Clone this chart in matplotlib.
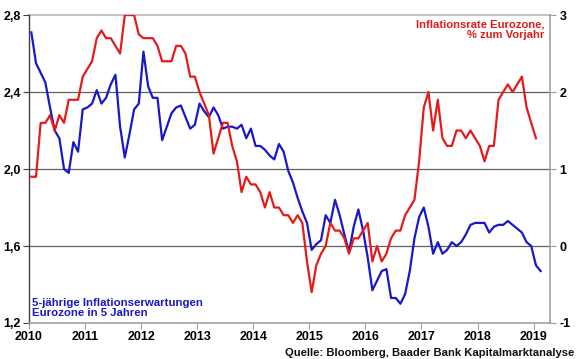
import matplotlib
matplotlib.use("Agg")
import matplotlib.pyplot as plt
import numpy as np

plt.rcParams['font.family'] = ['Liberation Sans', 'DejaVu Sans']

start_year = 2010
# 5-jährige Inflationserwartungen Eurozone in 5 Jahren (linke Achse), monatlich ab Jan 2010
blue_vals = [
    2.71, 2.55, 2.50, 2.45, 2.32, 2.20, 2.16, 2.00, 1.98, 2.14, 2.09, 2.31,
    2.32, 2.34, 2.41, 2.34, 2.37, 2.44, 2.49, 2.22, 2.06, 2.18, 2.31, 2.34,
    2.61, 2.43, 2.37, 2.37, 2.15, 2.22, 2.29, 2.32, 2.33, 2.27, 2.21, 2.23,
    2.34, 2.30, 2.27, 2.32, 2.28, 2.21, 2.22, 2.22, 2.21, 2.23, 2.16, 2.21,
    2.12, 2.12, 2.10, 2.07, 2.05, 2.13, 2.09, 1.99, 1.93, 1.85, 1.78, 1.72,
    1.58, 1.61, 1.63, 1.76, 1.72, 1.84, 1.76, 1.66, 1.57, 1.70, 1.79, 1.68,
    1.54, 1.37, 1.42, 1.47, 1.48, 1.33, 1.33, 1.30, 1.35, 1.47, 1.64, 1.75,
    1.80, 1.70, 1.56, 1.62, 1.56, 1.58, 1.62, 1.60, 1.62, 1.66, 1.71, 1.72,
    1.72, 1.72, 1.67, 1.70, 1.71, 1.71, 1.73, 1.71, 1.69, 1.67, 1.62, 1.60,
    1.50, 1.47,
]
# Inflationsrate Eurozone, % zum Vorjahr (rechte Achse), monatlich ab Jan 2010
red_vals = [
    0.9, 0.9, 1.6, 1.6, 1.7, 1.5, 1.7, 1.6, 1.9, 1.9, 1.9, 2.2,
    2.3, 2.4, 2.7, 2.8, 2.7, 2.7, 2.6, 2.5, 3.0, 3.0, 3.0, 2.75,
    2.7, 2.7, 2.7, 2.6, 2.4, 2.4, 2.4, 2.6, 2.6, 2.5, 2.2, 2.2,
    2.0, 1.85, 1.7, 1.2, 1.4, 1.6, 1.6, 1.3, 1.1, 0.7, 0.9, 0.8,
    0.8, 0.7, 0.5, 0.7, 0.5, 0.5, 0.4, 0.4, 0.3, 0.4, 0.3, -0.2,
    -0.6, -0.25, -0.1, 0.0, 0.3, 0.2, 0.2, 0.1, -0.1, 0.1, 0.1, 0.2,
    0.3, -0.2, 0.0, -0.2, -0.1, 0.1, 0.2, 0.2, 0.4, 0.5, 0.6, 1.1,
    1.8, 2.0, 1.5, 1.9, 1.4, 1.3, 1.3, 1.5, 1.5, 1.4, 1.5, 1.4,
    1.3, 1.1, 1.3, 1.3, 1.9, 2.0, 2.1, 2.0, 2.1, 2.2, 1.8, 1.6,
    1.4,
]
years = list(range(2010, 2020))
left_ticks = [1.2, 1.6, 2.0, 2.4, 2.8]
left_labels = ["1,2", "1,6", "2,0", "2,4", "2,8"]
right_ticks = [-1, 0, 1, 2, 3]
right_labels = ["-1", "0", "1", "2", "3"]

t_blue = start_year + (np.arange(len(blue_vals)) + 0.5) / 12
t_red = start_year + (np.arange(len(red_vals)) + 0.5) / 12

RED = "#e41b1b"
BLUE = "#1818c8"

fig = plt.figure(figsize=(5.8, 3.59), dpi=100)
ax = fig.add_axes([0.05, 0.1003, 0.898, 0.8577])
ax2 = ax.twinx()

ax.set_xlim(2010, 2019.29)
ax.set_ylim(1.2, 2.8)
ax2.set_ylim(-1, 3)

# gridlines
for v in [1.6, 2.0, 2.4]:
    ax.axhline(v, color="#606060", lw=0.9, zorder=1)
ax.axhline(2.8, color="#b8b8b8", lw=1.2, zorder=1, clip_on=False)

ax.plot(t_blue, blue_vals, color=BLUE, lw=1.6, zorder=3)
ax2.plot(t_red, red_vals, color=RED, lw=1.6, zorder=3, clip_on=True)

for a in (ax, ax2):
    a.spines['top'].set_visible(False)
ax.spines['left'].set_color("#404040")
ax.spines['left'].set_linewidth(1.0)
ax.spines['bottom'].set_color("#a0a0a0")
ax.spines['bottom'].set_linewidth(1.2)
ax2.spines['right'].set_color("#a0a0a0")
ax2.spines['right'].set_linewidth(1.2)
ax2.spines['left'].set_visible(False)
ax2.spines['bottom'].set_visible(False)
ax.spines['right'].set_visible(False)

ax.set_xticks(years)
ax.set_xticklabels([str(y) for y in years], fontsize=9, fontweight='bold')
ax.tick_params(axis='x', length=4, color="#a0a0a0", pad=2)
ax.set_yticks(left_ticks)
ax.set_yticklabels(left_labels, fontsize=9, fontweight='bold')
ax.tick_params(axis='y', length=4, color="#404040", pad=2)
ax2.set_yticks(right_ticks)
ax2.set_yticklabels(right_labels, fontsize=9, fontweight='bold')
ax2.tick_params(axis='y', length=4, color="#a0a0a0", pad=3)

ax2.set_zorder(ax.get_zorder() + 1)
ax2.patch.set_visible(False)

ax.text(0.99, 0.985, "Inflationsrate Eurozone,\n% zum Vorjahr", transform=ax.transAxes,
        ha='right', va='top', color=RED, fontsize=8.1, fontweight='bold', linespacing=1.1)
ax.text(0.006, 0.049, "5-jährige Inflationserwartungen\nEurozone in 5 Jahren", transform=ax.transAxes,
        ha='left', va='center', color=BLUE, fontsize=8.2, fontweight='bold', linespacing=1.1)
fig.text(0.99, 0.004, "Quelle: Bloomberg, Baader Bank Kapitalmarktanalyse",
         ha='right', va='bottom', color="#111111", fontsize=8.1, fontweight='bold')

fig.savefig("out.png", dpi=100)
